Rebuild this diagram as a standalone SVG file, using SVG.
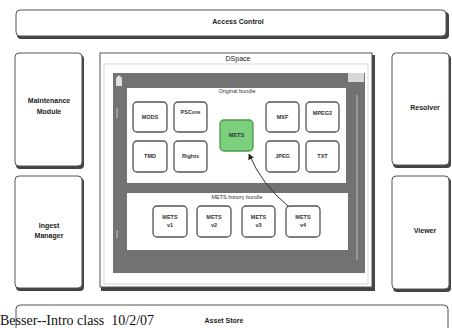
<svg xmlns="http://www.w3.org/2000/svg" width="452" height="328" viewBox="0 0 452 328">
<defs>
<style>
.big{font-family:"Liberation Sans",Arial,sans-serif;font-size:7px;fill:#222;text-anchor:middle;font-weight:bold}
.sm{font-family:"Liberation Sans",Arial,sans-serif;font-size:5.5px;fill:#333;text-anchor:middle;font-weight:bold}
.box{fill:#fff;stroke:#555;stroke-width:1}
.shadow{fill:#444}
.node{fill:#fff;stroke:#555;stroke-width:1.3}
.conn{fill:none;stroke:#333;stroke-width:1}
</style>
<marker id="ah" viewBox="0 0 10 10" refX="9" refY="5" markerWidth="6" markerHeight="6" orient="auto-start-reverse">
<path d="M0,0 L10,5 L0,10 z" fill="#222"/>
</marker>
</defs>
<rect width="452" height="328" fill="#fff"/>

<g id="access-control">
<rect class="shadow" x="17" y="12" width="432" height="27" rx="4"/>
<rect class="box" x="16" y="10" width="430" height="26" rx="4"/>
<text class="big" x="238" y="24">Access Control</text>
</g>

<g id="maintenance-module">
<rect class="shadow" x="16" y="55" width="68" height="114" rx="4"/>
<rect class="box" x="15" y="53" width="67" height="113" rx="4"/>
<text class="big" x="49" y="103">Maintenance</text>
<text class="big" x="49" y="114">Module</text>
</g>

<g id="ingest-manager">
<rect class="shadow" x="16" y="178" width="68" height="113" rx="4"/>
<rect class="box" x="15" y="176" width="67" height="112" rx="4"/>
<text class="big" x="49" y="228">Ingest</text>
<text class="big" x="49" y="238">Manager</text>
</g>

<g id="resolver">
<rect class="shadow" x="393" y="55" width="58" height="113" rx="4"/>
<rect class="box" x="392" y="53" width="57" height="112" rx="4"/>
<text class="big" x="425" y="110">Resolver</text>
</g>

<g id="viewer">
<rect class="shadow" x="393" y="178" width="58" height="114" rx="4"/>
<rect class="box" x="392" y="176" width="57" height="113" rx="4"/>
<text class="big" x="425" y="233">Viewer</text>
</g>

<g id="dspace">
<rect class="shadow" x="101" y="55" width="274" height="236"/>
<rect class="box" x="100" y="53" width="272" height="234"/>
<rect x="104" y="64" width="264" height="220" fill="none" stroke="#ccc" stroke-width="0.8"/>
<text class="big" x="238" y="61" style="font-weight:normal">DSpace</text>
<rect x="113" y="73" width="252" height="200" fill="#727272"/>
<rect x="348" y="73" width="16" height="9" fill="#d8d8d8"/>
<path d="M116,86 L116,78 L119,75 L122,78 L122,86 z" fill="#e0e0e0"/>
<line x1="117" y1="108" x2="117" y2="118" stroke="#ccc" stroke-width="1"/>
<line x1="117" y1="230" x2="117" y2="238" stroke="#ccc" stroke-width="1"/>
<line x1="357" y1="95" x2="357" y2="260" stroke="#999" stroke-width="2"/>
</g>

<g id="original-bundle">
<rect x="127" y="88" width="219" height="95" fill="#fff"/>
<text class="sm" x="237" y="93" style="font-weight:normal">Original bundle</text>
</g>

<g id="history-bundle">
<rect x="127" y="193" width="221" height="57" fill="#fff"/>
<text class="sm" x="237" y="199" style="font-weight:normal">METS history bundle</text>
</g>

<g id="mods"><rect class="node" x="133" y="102" width="34" height="30" rx="4"/><text class="sm" x="150" y="119">MODS</text></g>
<g id="pscore"><rect class="node" x="174" y="102" width="33" height="30" rx="4"/><text class="sm" x="190.5" y="114">PSCore</text></g>
<g id="tmd"><rect class="node" x="133" y="141" width="34" height="31" rx="4"/><text class="sm" x="150" y="158">TMD</text></g>
<g id="rights"><rect class="node" x="174" y="141" width="33" height="31" rx="4"/><text class="sm" x="190.5" y="158">Rights</text></g>
<g id="mets"><rect x="220" y="120" width="33" height="31" rx="4" fill="#7ccf7c" stroke="#4a9a4a" stroke-width="1.3"/><text class="sm" x="236.5" y="137">METS</text></g>
<g id="mxf"><rect class="node" x="266" y="102" width="33" height="30" rx="4"/><text class="sm" x="282.5" y="119">MXF</text></g>
<g id="mpeg2"><rect class="node" x="306" y="102" width="33" height="30" rx="4"/><text class="sm" x="322.5" y="115">MPEG2</text></g>
<g id="jpeg"><rect class="node" x="266" y="141" width="33" height="31" rx="4"/><text class="sm" x="282.5" y="158">JPEG</text></g>
<g id="txt"><rect class="node" x="306" y="141" width="33" height="31" rx="4"/><text class="sm" x="322.5" y="158">TXT</text></g>

<g id="mets-v1"><rect class="node" x="153" y="206" width="34" height="31" rx="4"/><text class="sm" x="170" y="219">METS</text><text class="sm" x="170" y="227">v1</text></g>
<g id="mets-v2"><rect class="node" x="197" y="206" width="34" height="31" rx="4"/><text class="sm" x="214" y="219">METS</text><text class="sm" x="214" y="227">v2</text></g>
<g id="mets-v3"><rect class="node" x="242" y="206" width="33" height="31" rx="4"/><text class="sm" x="258.5" y="219">METS</text><text class="sm" x="258.5" y="227">v3</text></g>
<g id="mets-v4"><rect class="node" x="286" y="206" width="34" height="31" rx="4"/><text class="sm" x="303" y="219">METS</text><text class="sm" x="303" y="227">v4</text></g>

<g id="connectors">
<path class="conn" d="M288,206 Q262,185 249,154" marker-end="url(#ah)"/>
</g>

<g id="asset-store">
<rect class="box" x="16" y="305" width="432" height="30" rx="4"/>
<text class="big" x="224" y="323">Asset Store</text>
</g>

<text x="0" y="325" font-family="Liberation Serif,Times New Roman,serif" font-size="14" fill="#111" xml:space="preserve" style="white-space:pre">Besser--Intro class  10/2/07</text>
</svg>
